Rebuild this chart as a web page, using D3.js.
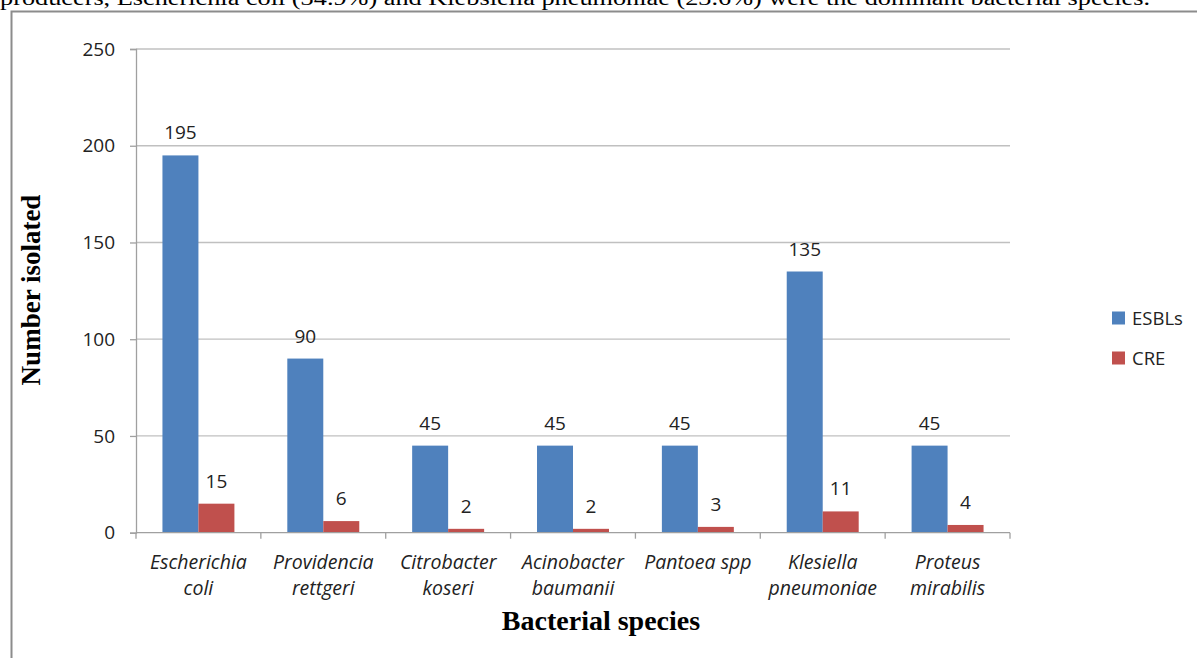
<!DOCTYPE html>
<html>
<head>
<meta charset="utf-8">
<script src="https://cdn.jsdelivr.net/npm/d3@7"></script>
<style>
  html, body { margin: 0; padding: 0; background: #fff; overflow: hidden; }
  svg { display: block; }
</style>
</head>
<body>
<svg id="chart" width="1197" height="658"></svg>
<script>
// ---- data ----
const categories = ["Escherichia coli", "Providencia rettgeri", "Citrobacter koseri", "Acinobacter baumanii", "Pantoea spp", "Klesiella pneumoniae", "Proteus mirabilis"];
const categoryLines = [["Escherichia", "coli"], ["Providencia", "rettgeri"], ["Citrobacter", "koseri"], ["Acinobacter", "baumanii"], ["Pantoea spp"], ["Klesiella", "pneumoniae"], ["Proteus", "mirabilis"]];
const seriesNames = ["ESBLs", "CRE"];
const esbls = [195, 90, 45, 45, 45, 135, 45];
const cre = [15, 6, 2, 2, 3, 11, 4];
const yTicks = [0, 50, 100, 150, 200, 250];
const seriesColors = ["#4F81BD", "#C0504D"];
const captionText = "producers, Escherichia coli (34.9%) and Klebsiella pneumoniae (23.6%) were the dominant bacterial species.";

const svg = d3.select("#chart");
const plotLeft = 136, plotRight = 1010, plotTop = 49, plotBottom = 532.7;
const sansFont = "Open Sans, Carlito, Calibri, sans-serif";
const serifFont = "Liberation Serif, Times New Roman, serif";

const x = d3.scaleBand().domain(categories).range([plotLeft, plotRight]).paddingInner(0).paddingOuter(0);
const x1 = d3.scaleBand().domain(seriesNames).range([0, x.bandwidth()]).paddingInner(0).paddingOuter(0.735);
const y = d3.scaleLinear().domain([0, 250]).range([plotBottom, plotTop]);
const color = d3.scaleOrdinal().domain(seriesNames).range(seriesColors);

// caption line cut at top (continuation of the page text above the figure)
svg.append("text")
  .attr("x", 0).attr("y", 5)
  .attr("font-family", serifFont)
  .attr("font-size", 20)
  .attr("textLength", 1150)
  .attr("lengthAdjust", "spacingAndGlyphs")
  .attr("fill", "#000")
  .text(captionText);

// frame
svg.append("path")
  .attr("d", "M11.5,658 L11.5,11.5 L1197,11.5")
  .attr("fill", "none").attr("stroke", "#8c8c8c").attr("stroke-width", 2);

// gridlines
svg.append("g").selectAll("line").data(yTicks.filter(t => t > 0)).join("line")
  .attr("x1", plotLeft).attr("x2", plotRight)
  .attr("y1", d => y(d)).attr("y2", d => y(d))
  .attr("stroke", "#c0c0c0").attr("stroke-width", 1.3);

// y axis
const yAxis = svg.append("g").attr("transform", `translate(${plotLeft},0)`)
  .call(d3.axisLeft(y).tickValues(yTicks).tickSize(6).tickPadding(15));
yAxis.select(".domain").attr("stroke", "#a0a0a0").attr("stroke-width", 1.3);
yAxis.selectAll(".tick line").attr("stroke", "#a0a0a0").attr("stroke-width", 1.3);
yAxis.selectAll(".tick text")
  .attr("font-family", sansFont)
  .attr("font-size", 19).attr("fill", "#222");

// bars
const groups = svg.append("g").selectAll("g").data(categories).join("g")
  .attr("transform", d => `translate(${x(d)},0)`);
const barData = (c, i) => [{s: "ESBLs", v: esbls[i]}, {s: "CRE", v: cre[i]}];
groups.selectAll("rect").data((c, i) => barData(c, i)).join("rect")
  .attr("x", d => x1(d.s))
  .attr("width", x1.bandwidth())
  .attr("y", d => y(d.v))
  .attr("height", d => y(0) - y(d.v))
  .attr("fill", d => color(d.s));

// value labels
groups.selectAll("text.val").data((c, i) => barData(c, i)).join("text")
  .attr("class", "val")
  .attr("x", d => x1(d.s) + x1.bandwidth() / 2)
  .attr("y", d => y(d.v) - 16)
  .attr("text-anchor", "middle")
  .attr("font-family", sansFont)
  .attr("font-size", 19).attr("fill", "#222")
  .text(d => d.v);

// x axis line with boundary ticks
svg.append("line").attr("x1", plotLeft).attr("x2", plotRight).attr("y1", y(0)).attr("y2", y(0))
  .attr("stroke", "#a0a0a0").attr("stroke-width", 1.3);
const boundaries = categories.map(c => x(c)).concat([x.range()[1]]);
svg.append("g").selectAll("line").data(boundaries).join("line")
  .attr("x1", d => d).attr("x2", d => d)
  .attr("y1", y(0)).attr("y2", y(0) + 6)
  .attr("stroke", "#a0a0a0").attr("stroke-width", 1.3);

// category labels
const catG = svg.append("g").selectAll("text").data(categories).join("text")
  .attr("x", d => x(d) + x.bandwidth() / 2)
  .attr("y", 569)
  .attr("text-anchor", "middle")
  .attr("font-family", sansFont)
  .attr("font-style", "italic")
  .attr("font-size", 19.5).attr("fill", "#222");
catG.each(function (d, i) {
  d3.select(this).selectAll("tspan").data(categoryLines[i]).join("tspan")
    .attr("x", x(d) + x.bandwidth() / 2)
    .attr("dy", (t, j) => j === 0 ? 0 : 25.5)
    .text(t => t);
});

// axis titles
svg.append("text")
  .attr("x", 601).attr("y", 630)
  .attr("text-anchor", "middle")
  .attr("font-family", serifFont)
  .attr("font-weight", "bold").attr("font-size", 28).attr("fill", "#000")
  .text("Bacterial species");
svg.append("text")
  .attr("transform", "translate(40,290) rotate(-90)")
  .attr("text-anchor", "middle")
  .attr("font-family", serifFont)
  .attr("font-weight", "bold").attr("font-size", 27).attr("fill", "#000")
  .text("Number isolated");

// legend
const legend = svg.append("g").selectAll("g").data(seriesNames).join("g")
  .attr("transform", (d, i) => `translate(1112,${318 + i * 40})`);
legend.append("rect").attr("x", 0).attr("y", -6.5).attr("width", 13).attr("height", 13)
  .attr("fill", d => color(d));
legend.append("text").attr("x", 20).attr("y", 7)
  .attr("font-family", sansFont)
  .attr("font-size", 18.5).attr("fill", "#222")
  .text(d => d);
</script>
</body>
</html>
